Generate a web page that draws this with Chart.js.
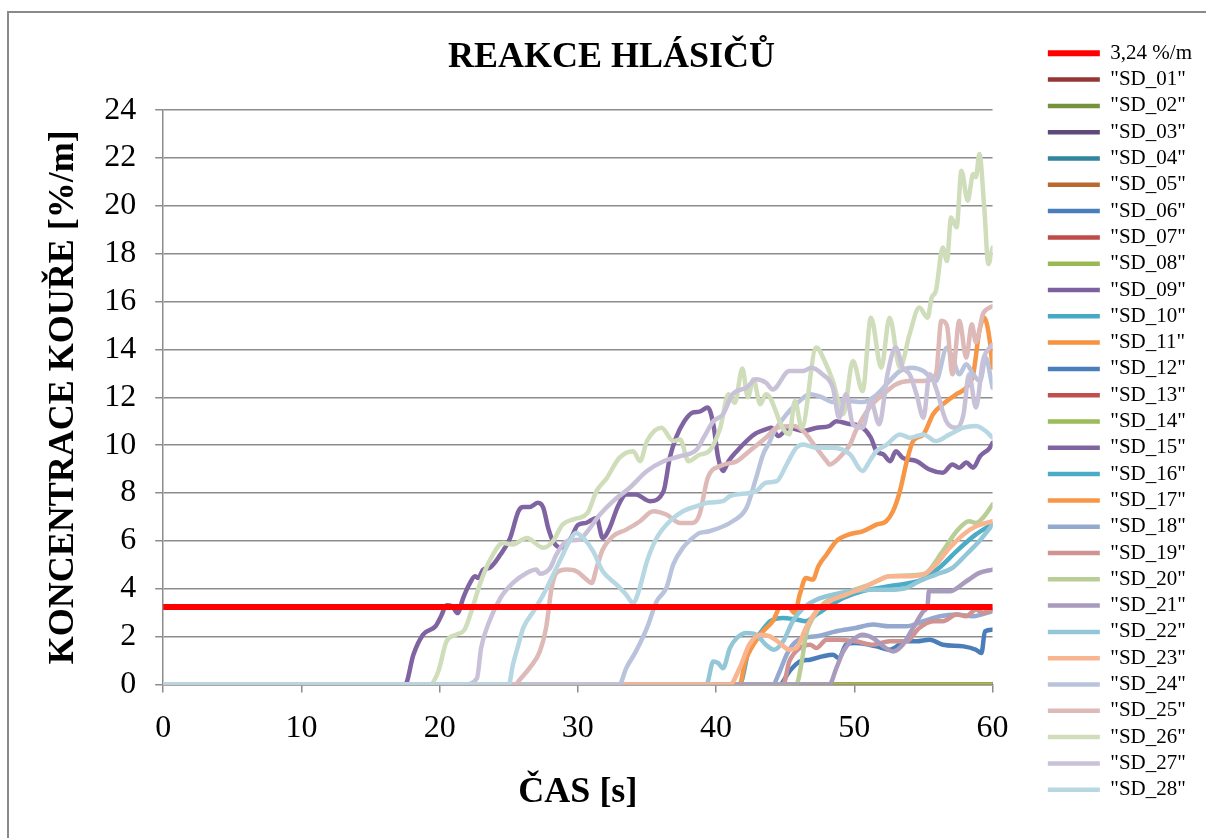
<!DOCTYPE html>
<html>
<head>
<meta charset="utf-8">
<title>Reakce hlásičů</title>
<script src="https://cdn.jsdelivr.net/npm/chart.js@4/dist/chart.umd.min.js"></script>
<style>
  html, body { margin: 0; padding: 0; background: #fff; overflow: hidden; }
  #ramecek { position: absolute; left: 7px; top: 11px; width: 1300px; height: 900px; border: 2px solid #8a8a8a; }
  #platno { position: absolute; left: 0; top: 0; }
</style>
</head>
<body>
<div id="ramecek"></div>
<canvas id="platno" width="1206" height="838"></canvas>
<script>
// hodnoty: [cas s, koncentrace %/m]
const prah = 3.24;
const prahBody = [[0, prah], [60, prah]];
const nula = [[0, 0], [60, 0]];

const sd12 = [[0,0],[44.6,0],[45.3,0.54],[46.05,0.96],[46.8,1.03],[47.7,1.17],[48.45,1.24],[48.9,1.1],[49.4,1.66],[50.1,1.73],[51.6,1.59],[52.55,1.45],[53.75,1.8],[54.5,1.8],[55.45,1.87],[56.4,1.66],[57.9,1.59],[58.8,1.45],[59.2,1.31],[59.45,2.22],[60,2.29]];
const sd15 = [[0,0],[17.5,0],[18.1,1.24],[18.8,2.08],[19.7,2.43],[20.1,2.85],[20.5,3.31],[20.9,3.27],[21.3,2.98],[21.7,3.61],[22.2,4.24],[22.55,4.52],[22.8,4.45],[23.15,4.8],[23.6,4.87],[24.4,5.43],[25.1,6.12],[25.7,7.24],[26.05,7.41],[26.5,7.41],[27.1,7.59],[27.5,7.38],[27.85,6.54],[28.2,5.99],[28.8,5.71],[29.5,6.12],[30.0,6.66],[30.6,6.75],[31.35,6.96],[31.8,6.12],[32.3,6.54],[32.9,7.45],[33.5,7.94],[34.2,7.94],[35.2,7.66],[36.2,8.08],[36.65,9.47],[37.1,10.31],[37.7,11.0],[38.3,11.36],[38.8,11.4],[39.4,11.57],[39.8,10.87],[40.15,9.47],[40.5,8.92],[40.9,9.33],[41.5,9.75],[42.2,10.17],[42.9,10.5],[43.6,10.66],[44.0,10.73],[44.5,10.38],[45.3,10.73],[46.3,10.59],[47.3,10.73],[48.2,10.8],[48.7,11.0],[49.5,10.9],[50.6,10.73],[51.2,10.31],[51.6,9.75],[52.1,9.61],[52.6,9.33],[53.0,9.75],[53.5,9.47],[54.5,9.33],[55.4,8.99],[56.4,8.85],[57.1,9.19],[57.6,9.06],[58.1,9.27],[58.6,9.06],[59.1,9.54],[59.8,9.89],[60,10.1]];
const sd16 = [[0,0],[41.7,0],[42.4,1.52],[43.2,2.15],[43.9,2.64],[44.85,2.78],[45.8,2.71],[46.5,2.64],[47.25,2.92],[48.2,3.27],[49.2,3.61],[50.6,3.9],[52.5,4.1],[55.0,4.4],[56.2,4.9],[57.4,5.57],[58.8,6.27],[60,6.7]];
const sd17 = [[0,0],[41.7,0],[42.1,0.96],[42.7,1.66],[43.4,2.22],[44.1,2.64],[44.7,3.27],[45.2,3.27],[45.7,2.98],[46.05,3.75],[46.5,4.45],[47.0,4.38],[47.4,4.94],[48.0,5.43],[48.7,5.99],[49.65,6.27],[50.6,6.4],[51.6,6.68],[52.3,6.82],[52.8,7.24],[53.3,8.08],[53.8,9.33],[54.25,10.17],[55.0,10.45],[55.7,11.29],[56.4,11.71],[57.4,12.13],[58.1,12.4],[58.6,12.96],[59.05,14.78],[59.4,15.33],[59.8,14.36],[60,13.24]];
const sd18 = [[0,0],[44.1,0],[44.6,0.54],[45.1,1.24],[45.55,1.66],[46.3,1.94],[47.25,2.01],[48.7,2.22],[50.1,2.36],[51.35,2.5],[52.55,2.43],[53.75,2.43],[55.0,2.64],[56.2,2.85],[57.4,2.92],[58.6,2.85],[60,3.06]];
const sd19 = [[0,0],[44.85,0],[45.3,0.96],[46.05,1.52],[46.8,1.66],[47.25,1.52],[48.0,1.87],[48.9,1.87],[50.1,1.8],[51.35,1.66],[52.55,1.8],[53.75,1.8],[54.7,2.36],[55.7,2.64],[56.4,2.64],[57.4,2.92],[58.1,2.85],[58.8,3.13],[59.3,2.99],[60,3.13]];
const sd20 = [[0,0],[45.8,0],[46.2,0.96],[46.5,2.08],[47.0,2.78],[47.7,3.33],[48.7,3.68],[49.65,3.89],[51.1,4.17],[52.55,4.52],[55.0,4.6],[56.4,5.57],[57.4,6.4],[58.3,6.82],[58.8,6.75],[59.3,6.96],[60,7.52]];
const sd21 = [[0,0],[48.2,0],[48.7,0.68],[49.2,1.38],[49.9,1.87],[50.6,2.08],[51.35,1.94],[52.1,1.59],[52.8,1.38],[53.5,1.66],[54.25,2.36],[55.0,3.06],[55.3,3.33],[55.4,3.9],[56.9,3.89],[58.1,4.31],[59.05,4.66],[60,4.8]];
const sd22 = [[0,0],[39.3,0],[39.8,0.96],[40.15,0.89],[40.5,0.68],[41.0,1.52],[41.5,1.94],[42.2,2.15],[42.9,2.08],[43.6,1.66],[44.2,1.45],[44.85,1.8],[45.55,2.64],[46.3,3.19],[47.25,3.54],[48.45,3.75],[49.65,3.89],[51.1,3.96],[52.55,3.96],[53.75,4.03],[54.7,4.31],[55.9,4.59],[57.1,4.87],[58.1,5.43],[59.05,5.99],[60,6.68]];
const sd23 = [[0,0],[41.0,0],[41.7,0.68],[42.4,1.66],[43.2,2.08],[43.9,2.01],[44.6,1.73],[45.3,1.45],[45.8,1.52],[46.5,2.36],[47.25,3.06],[48.2,3.47],[49.4,3.75],[50.6,4.03],[51.6,4.31],[52.55,4.52],[53.75,4.52],[55.0,4.59],[55.9,5.01],[56.9,5.71],[57.9,6.27],[58.8,6.61],[60,6.82]];
const sd24 = [[0,0],[33.0,0],[33.5,0.68],[34.2,1.38],[35.0,2.36],[35.7,3.47],[36.4,4.03],[36.9,5.01],[37.6,5.71],[38.3,6.12],[38.8,6.33],[39.5,6.4],[41.2,6.82],[42.2,7.38],[42.9,8.64],[43.4,9.61],[43.9,10.17],[44.1,10.45],[45.1,11.29],[46.05,11.85],[46.8,12.13],[47.7,11.99],[48.45,11.8],[49.4,11.85],[50.6,11.8],[51.6,12.1],[52.55,12.68],[53.3,13.1],[54.2,13.24],[55.0,13.1],[55.9,12.68],[56.7,14.08],[57.1,13.66],[57.6,12.96],[58.1,13.38],[58.6,12.96],[59.1,12.68],[59.5,13.66],[60,12.4]];
const sd25 = [[0,0],[25.5,0],[25.8,0.2],[26.5,0.68],[27.25,1.38],[27.7,2.36],[28.1,4.03],[28.45,4.66],[29.2,4.8],[29.9,4.73],[30.5,4.45],[31.0,4.24],[31.35,4.87],[31.8,5.64],[32.55,6.2],[33.5,6.47],[34.5,6.82],[35.45,7.24],[36.4,7.1],[37.4,6.75],[38.3,6.75],[38.8,7.1],[39.4,8.64],[40.3,9.13],[41.5,9.33],[42.4,9.75],[43.6,10.31],[44.4,10.73],[45.6,10.8],[46.3,10.59],[47.25,9.89],[48.0,9.33],[48.2,9.19],[48.9,9.47],[49.7,10.03],[50.1,10.59],[51.1,11.57],[52.1,12.13],[53.0,12.54],[54.0,12.68],[55.0,12.68],[55.9,12.96],[56.3,15.2],[56.7,15.0],[57.1,12.96],[57.6,15.2],[58.1,13.66],[58.5,15.05],[58.8,14.3],[59.3,15.47],[59.8,15.75],[60,15.8]];
const sd26 = [[0,0],[19.3,0],[19.9,0.54],[20.5,1.8],[21.2,2.08],[21.8,2.29],[22.3,3.06],[22.9,4.17],[23.6,5.15],[24.6,5.91],[25.3,5.85],[26.3,6.12],[27.5,5.71],[28.2,5.99],[28.9,6.68],[29.7,6.9],[30.7,7.17],[31.35,8.08],[32.1,8.63],[33.0,9.47],[34.0,9.75],[34.5,9.33],[35.0,10.17],[36.05,10.73],[36.9,10.17],[37.4,10.24],[38.0,9.33],[38.8,9.6],[39.5,9.75],[40.3,10.73],[40.9,12.13],[41.35,11.77],[41.9,13.2],[42.3,12.0],[42.7,12.75],[43.2,11.71],[43.6,12.13],[43.9,11.99],[44.8,10.73],[45.3,10.45],[45.7,11.85],[46.2,10.73],[47.25,14.08],[47.85,13.52],[48.45,12.68],[49.2,11.29],[49.9,13.52],[50.6,12.26],[51.2,15.33],[51.95,13.24],[52.55,15.33],[53.3,13.24],[54.0,14.64],[54.7,15.75],[55.3,15.33],[55.6,16.17],[55.9,16.45],[56.4,18.26],[56.7,17.7],[57.0,19.52],[57.4,19.1],[57.75,21.47],[58.2,20.22],[58.6,21.33],[58.8,21.2],[59.05,22.17],[59.4,19.94],[59.7,17.57],[60,18.26]];
const sd27 = [[0,0],[21.8,0],[22.7,0.26],[23.0,1.52],[23.6,2.64],[24.4,3.61],[25.3,4.24],[26.3,4.66],[27.0,4.8],[27.25,4.62],[28.0,4.87],[28.45,5.43],[29.2,5.99],[30.1,6.05],[30.6,6.33],[31.6,7.1],[32.55,7.66],[33.75,8.22],[35.0,8.92],[36.2,9.33],[37.4,9.54],[38.6,9.82],[39.1,10.31],[39.8,11.0],[40.5,11.29],[41.2,12.13],[42.2,12.4],[42.9,12.75],[43.6,12.61],[44.1,12.33],[45.3,13.1],[46.3,13.1],[46.9,13.24],[47.7,12.96],[48.45,12.4],[48.9,11.15],[49.4,12.13],[49.9,10.87],[50.6,10.73],[51.2,11.85],[51.8,10.87],[52.4,12.96],[53.0,14.08],[53.5,13.24],[54.0,12.96],[54.5,12.13],[55.0,11.15],[55.45,12.96],[55.9,12.4],[56.65,11.0],[57.4,10.73],[57.9,11.29],[58.3,12.96],[58.8,11.57],[59.3,13.52],[59.8,14.08],[60,14.2]];
const sd28 = [[0,0],[25.0,0],[25.3,0.82],[25.7,1.66],[26.05,2.36],[26.8,3.06],[27.5,3.75],[28.1,4.45],[28.8,5.29],[29.4,5.99],[29.85,6.33],[30.4,6.12],[31.1,5.57],[31.8,4.73],[32.8,4.17],[33.5,3.75],[34.0,3.4],[34.4,3.89],[35.0,5.15],[35.7,6.12],[36.65,6.82],[37.6,7.24],[38.6,7.45],[39.5,7.6],[40.5,7.66],[41.0,7.87],[42.9,8.08],[43.6,8.43],[44.4,8.5],[45.1,9.19],[45.8,9.89],[46.3,10.03],[47.25,9.89],[48.45,9.89],[49.7,9.61],[50.6,8.92],[51.1,9.33],[51.6,9.75],[52.3,10.0],[53.3,10.45],[54.0,10.31],[55.0,10.45],[55.9,10.17],[56.9,10.45],[57.9,10.73],[58.8,10.8],[59.5,10.59],[60,10.31]];

const nazvy = ['"SD_01"','"SD_02"','"SD_03"','"SD_04"','"SD_05"','"SD_06"','"SD_07"','"SD_08"','"SD_09"','"SD_10"',
  '"SD_11"','"SD_12"','"SD_13"','"SD_14"','"SD_15"','"SD_16"','"SD_17"','"SD_18"','"SD_19"','"SD_20"',
  '"SD_21"','"SD_22"','"SD_23"','"SD_24"','"SD_25"','"SD_26"','"SD_27"','"SD_28"'];
const barvy = ['#943634','#76923C','#5F497A','#31859C','#B9692D','#4A7EBB','#BE4B48','#98B954','#7D60A0','#46AAC5',
  '#F69240','#4A7EBB','#C0504D','#9BBB59','#8064A2','#4BACC6','#F79646','#93A9CF','#D09392','#B9CD96',
  '#A99BBD','#93C6D7','#F9B590','#B9C3DC','#DDB9B8','#CFDDBA','#C9C1D7','#B7D7E2'];
const hodnoty = [nula, nula, nula, nula, nula, nula, nula, nula, nula, nula,
  nula, sd12, nula, nula, sd15, sd16, sd17, sd18, sd19, sd20,
  sd21, sd22, sd23, sd24, sd25, sd26, sd27, sd28];

const pismo = "'Liberation Serif', 'Times New Roman', serif";
Chart.defaults.color = '#000';
Chart.defaults.font.family = pismo;

const datasets = [{
  label: '3,24 %/m',
  data: prahBody,
  borderColor: '#FF0000',
  backgroundColor: '#FF0000',
  borderWidth: 6,
  order: 0
}];
nazvy.forEach((n, i) => {
  datasets.push({
    label: n,
    data: hodnoty[i],
    borderColor: barvy[i],
    backgroundColor: barvy[i],
    borderWidth: 4.5,
    order: 100 - i  // pozdejsi serie kreslit navrch jako v Excelu
  });
});

const seda = '#8c8c8c';

new Chart(document.getElementById('platno'), {
  type: 'line',
  data: { datasets: datasets },
  options: {
    responsive: false,
    animation: false,
    layout: { padding: { left: 21, right: 4, top: 15, bottom: 10 } },
    elements: {
      point: { radius: 0 },
      line: { cubicInterpolationMode: 'monotone', borderCapStyle: 'round', borderJoinStyle: 'round' }
    },
    plugins: {
      title: {
        display: true,
        text: 'REAKCE HLÁSIČŮ',
        font: { size: 36, weight: 'bold', family: pismo },
        padding: { top: 21, bottom: 31 }
      },
      legend: {
        position: 'right',
        align: 'center',
        labels: {
          usePointStyle: true,
          pointStyle: 'line',
          pointStyleWidth: 52,
          padding: 5.3,
          font: { size: 21, family: pismo },
          sort: (a, b) => a.datasetIndex - b.datasetIndex
        }
      },
      tooltip: { enabled: false }
    },
    scales: {
      x: {
        type: 'linear',
        min: 0,
        max: 60,
        ticks: { stepSize: 10, padding: 17, font: { size: 32 } },
        grid: { drawOnChartArea: false, drawTicks: true, tickLength: 8, color: seda, lineWidth: 1.5 },
        border: { display: true, color: seda, width: 1.5 },
        title: {
          display: true,
          text: 'ČAS [s]',
          font: { size: 36, weight: 'bold' },
          padding: { top: 6, bottom: 14 }
        }
      },
      y: {
        min: 0,
        max: 24,
        ticks: { stepSize: 2, padding: 19, font: { size: 32 } },
        grid: { color: seda, lineWidth: 1.5, tickLength: 8 },
        border: { display: true, color: seda, width: 1.5 },
        title: {
          display: true,
          text: 'KONCENTRACE KOUŘE [%/m]',
          font: { size: 36, weight: 'bold' },
          padding: { top: 21, bottom: 0 }
        }
      },
      mezera: {
        position: 'right',
        display: true,
        grid: { display: false },
        ticks: { display: false },
        border: { display: false },
        afterFit: (s) => { s.width = 50; }
      }
    }
  }
});
</script>
</body>
</html>
